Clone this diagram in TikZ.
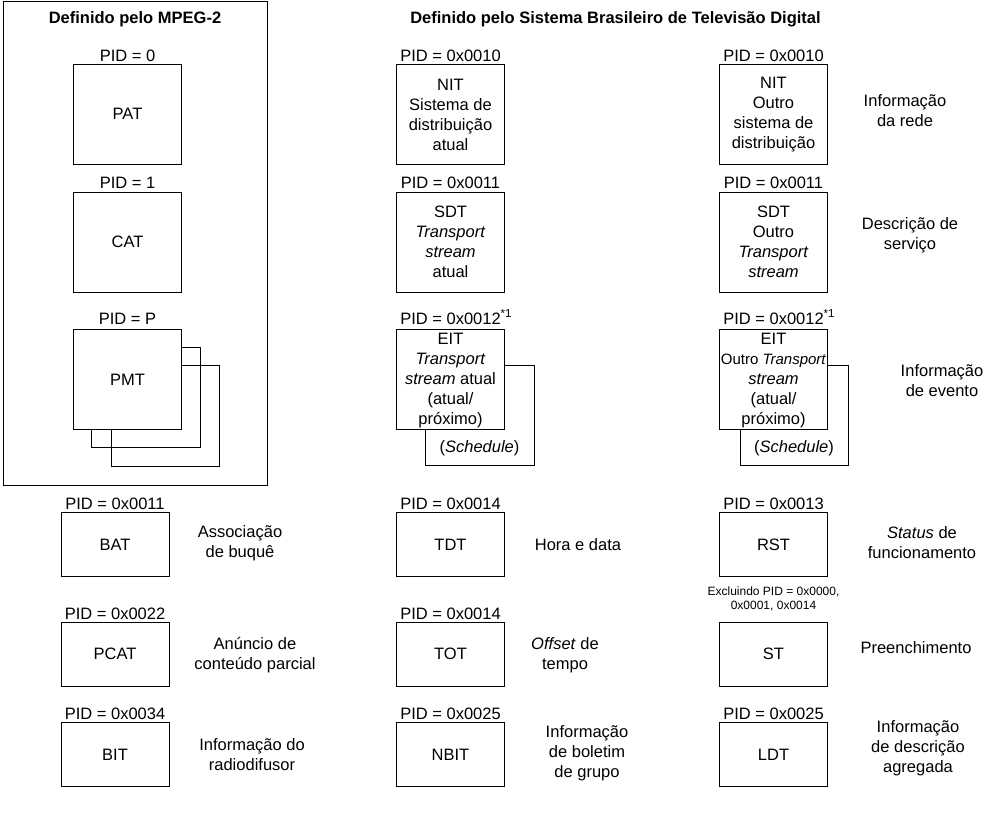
\documentclass[tikz,border=0pt]{standalone}
\usepackage{fontspec}
\setmainfont{Liberation Sans}
\newcommand\tabfont{\fontsize{16.5}{20}\selectfont}
\newcommand\smallfnt{\fontsize{12}{14}\selectfont}
\newcommand\tightfnt{\fontsize{15}{20}\selectfont}
\begin{document}
\begin{tikzpicture}[x=1pt,y=-1pt,line width=1pt,
  tbl/.style={draw,fill=white,minimum width=108pt,minimum height=100pt,inner sep=0pt,align=center,font=\tabfont},
  tblsm/.style={tbl,minimum height=64pt},
  pid/.style={anchor=base,inner sep=0pt,font=\tabfont},
  lbl/.style={align=center,inner sep=0pt,font=\tabfont},
  ttl/.style={inner sep=0pt,font=\tabfont\bfseries}]
\useasboundingbox (0,0) rectangle (992,816);

% ---------- MPEG-2 frame ----------
\draw (3,2) rectangle (267,485);
\node[ttl] (t1) at (135,19) {Definido pelo MPEG-2};
\node[ttl] (t2) at (615.5,19) {Definido pelo Sistema Brasileiro de Televisão Digital};

\node[pid] (pidpat) at (127.5,61) {PID = 0};
\node[tbl] (pat) at (127.5,114) {PAT};
\node[pid] (pidcat) at (127.5,188) {PID = 1};
\node[tbl] (cat) at (127.5,242) {CAT};
\node[pid] (pidpmt) at (127.5,324) {PID = P};
\draw (111.5,365.5) rectangle (219.5,466);
\draw (91,347) rectangle (200,447);
\node[tbl] (pmt) at (127.5,379.5) {PMT};

% ---------- middle column ----------
\node[pid] (pidnit1) at (450.5,61) {PID = 0x0010};
\node[tbl] (nit1) at (450.5,114.5) {NIT\\Sistema de\\distribuição\\atual};
\node[pid] (pidsdt1) at (450.5,188) {PID = 0x0011};
\node[tbl] (sdt1) at (450.5,242) {SDT\\\textit{Transport}\\\textit{stream}\\atual};
\node[pid] (pideit1) at (450.5,324) {PID = 0x0012\rlap{\textsuperscript{*1}}};
\draw (425,365) rectangle (534,465);
\node[tbl] (eit1) at (450.5,379.5) {};
\node[lbl] (eit1txt) at (450.5,381) {EIT\\\textit{Transport}\\\textit{stream} atual\\(atual/\\próximo)};
\node[lbl] (sch1) at (479.5,448) {(\textit{Schedule})};

% ---------- right column ----------
\node[pid] (pidnit2) at (773.5,61) {PID = 0x0010};
\node[tbl] (nit2) at (773.5,114.5) {NIT\\Outro\\sistema de\\distribuição};
\node[pid] (pidsdt2) at (773.5,188) {PID = 0x0011};
\node[tbl] (sdt2) at (773.5,242) {SDT\\Outro\\\textit{Transport}\\\textit{stream}};
\node[pid] (pideit2) at (773.5,324) {PID = 0x0012\rlap{\textsuperscript{*1}}};
\draw (740,365) rectangle (848,465);
\node[tbl] (eit2) at (773.5,379.5) {};
\node[lbl] (eit2txt) at (773.5,381) {EIT\\{\tightfnt Outro \textit{Transport}}\\\textit{stream}\\(atual/\\próximo)};
\node[lbl] (sch2) at (794,448) {(\textit{Schedule})};

\node[lbl] (lnit) at (905,111) {Informação\\da rede};
\node[lbl] (lsdt) at (910,235) {Descrição de\\serviço};
\node[lbl] (leit) at (942,380.5) {Informação\\de evento};

% ---------- bottom rows ----------
\node[pid] (pidbat) at (115,509) {PID = 0x0011};
\node[tblsm] (bat) at (115,544.5) {BAT};
\node[lbl] (lbat) at (240,543) {Associação\\de buquê};
\node[pid] (pidpcat) at (115,619) {PID = 0x0022};
\node[tblsm] (pcat) at (115,654) {PCAT};
\node[lbl] (lpcat) at (255,655) {Anúncio de\\conteúdo parcial};
\node[pid] (pidbit) at (115,719) {PID = 0x0034};
\node[tblsm] (bit) at (115,754.5) {BIT};
\node[lbl] (lbit) at (252,755) {Informação do\\radiodifusor};

\node[pid] (pidtdt) at (450.5,509) {PID = 0x0014};
\node[tblsm] (tdt) at (450.5,544.5) {TDT};
\node[lbl] (ltdt) at (578,545) {Hora e data};
\node[pid] (pidtot) at (450.5,619) {PID = 0x0014};
\node[tblsm] (tot) at (450.5,654) {TOT};
\node[lbl] (ltot) at (565,655) {\textit{Offset} de\\tempo};
\node[pid] (pidnbit) at (450.5,719) {PID = 0x0025};
\node[tblsm] (nbit) at (450.5,754.5) {NBIT};
\node[lbl] (lnbit) at (587,753) {Informação\\de boletim\\de grupo};

\node[pid] (pidrst) at (773.5,509) {PID = 0x0013};
\node[tblsm] (rst) at (773.5,544.5) {RST};
\node[lbl] (lrst) at (922,543) {\textit{Status} de\\funcionamento};
\node[tblsm] (st) at (773.5,654) {ST};
\node[lbl,font=\smallfnt] (excl) at (773.5,599) {Excluindo PID = 0x0000,\\0x0001, 0x0014};
\node[lbl] (lst) at (916,648) {Preenchimento};
\node[pid] (pidldt) at (773.5,719) {PID = 0x0025};
\node[tblsm] (ldt) at (773.5,754.5) {LDT};
\node[lbl] (lldt) at (918,748) {Informação\\de descrição\\agregada};
\end{tikzpicture}
\end{document}
